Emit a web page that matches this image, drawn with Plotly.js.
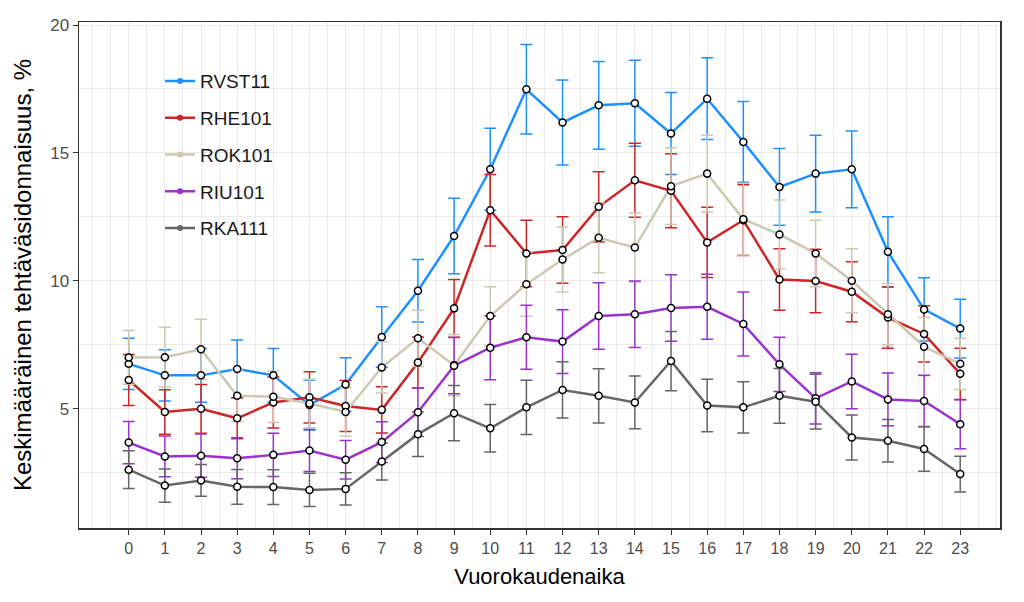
<!DOCTYPE html>
<html>
<head>
<meta charset="utf-8">
<script src="https://cdn.plot.ly/plotly-3.0.1.min.js"></script>
<style>
  html, body { margin: 0; padding: 0; background: #fff; }
  #chart { width: 1024px; height: 602px; }
</style>
</head>
<body>
<div id="chart"></div>
<script>
const hours = [0,1,2,3,4,5,6,7,8,9,10,11,12,13,14,15,16,17,18,19,20,21,22,23];
const hourLabels = ["0","1","2","3","4","5","6","7","8","9","10","11","12","13","14","15","16","17","18","19","20","21","22","23"];

const seriesNames = ["RVST11", "RHE101", "ROK101", "RIU101", "RKA111"];

const rvst11 = [6.75, 6.30, 6.30, 6.55, 6.30, 5.14, 5.94, 7.80, 9.61, 11.75, 14.36, 17.49, 16.19, 16.86, 16.94, 15.76, 17.12, 15.43, 13.67, 14.19, 14.36, 11.13, 8.88, 8.13];
const rvst11Err = [1.00, 1.00, 1.05, 1.13, 1.05, 0.98, 1.05, 1.18, 1.22, 1.48, 1.60, 1.75, 1.66, 1.72, 1.68, 1.60, 1.60, 1.58, 1.50, 1.50, 1.50, 1.37, 1.24, 1.15];

const rhe101 = [6.12, 4.87, 4.99, 4.62, 5.24, 5.44, 5.10, 4.95, 6.80, 8.92, 12.76, 11.07, 11.20, 12.89, 13.93, 13.52, 11.50, 12.37, 10.05, 9.99, 9.57, 8.56, 7.92, 6.36];
const rhe101Err = [1.00, 0.87, 0.95, 0.80, 1.00, 1.00, 1.00, 0.90, 1.00, 1.13, 1.40, 1.30, 1.30, 1.37, 1.45, 1.45, 1.37, 1.38, 1.20, 1.24, 1.17, 1.20, 1.10, 1.00];

const rok101 = [7.00, 7.01, 7.32, 5.50, 5.46, 5.20, 4.87, 6.61, 7.75, 6.70, 8.62, 9.86, 10.83, 11.68, 11.30, 13.70, 14.19, 12.41, 11.81, 11.07, 10.00, 8.69, 7.42, 6.75];
const rok101Err = [1.05, 1.17, 1.17, 1.00, 1.00, 0.95, 0.95, 1.00, 1.10, 1.20, 1.15, 1.25, 1.27, 1.37, 1.35, 1.50, 1.50, 1.40, 1.35, 1.30, 1.25, 1.20, 1.14, 1.00];

const riu101 = [3.67, 3.13, 3.16, 3.06, 3.19, 3.36, 3.00, 3.69, 4.86, 6.68, 7.38, 7.79, 7.62, 8.62, 8.69, 8.93, 8.98, 8.31, 6.73, 5.40, 6.06, 5.36, 5.30, 4.39];
const riu101Err = [0.83, 0.80, 0.85, 0.80, 0.85, 0.82, 0.75, 0.80, 0.95, 1.10, 1.25, 1.25, 1.25, 1.30, 1.30, 1.30, 1.27, 1.25, 1.06, 1.00, 1.07, 1.03, 1.00, 0.96];

const rka111 = [2.61, 1.99, 2.19, 1.94, 1.93, 1.82, 1.86, 2.93, 4.00, 4.82, 4.23, 5.05, 5.73, 5.50, 5.24, 6.86, 5.12, 5.05, 5.50, 5.27, 3.87, 3.74, 3.42, 2.44];
const rka111Err = [0.74, 0.65, 0.62, 0.68, 0.68, 0.65, 0.63, 0.72, 0.87, 1.08, 0.93, 1.06, 1.10, 1.06, 1.03, 1.16, 1.03, 1.00, 1.07, 1.07, 0.88, 0.83, 0.87, 0.70];

const seriesValues = [rvst11, rhe101, rok101, riu101, rka111];
const seriesErrors = [rvst11Err, rhe101Err, rok101Err, riu101Err, rka111Err];
const seriesColors = ["#1E90FF", "#CD2626", "#CDC8B1", "#9A32CD", "#666666"];

const FONT = "Liberation Sans, Arial, sans-serif";

const traces = [];
seriesNames.forEach((name, i) => {
  traces.push({
    type: "scatter",
    mode: "lines+markers",
    name: name,
    legendgroup: name,
    x: hours,
    y: seriesValues[i],
    line: { color: seriesColors[i], width: 2.5 },
    marker: { color: seriesColors[i], size: 6 },
    error_y: { type: "data", array: seriesErrors[i], visible: true, color: seriesColors[i], thickness: 1.5, width: 6 },
    hoverinfo: "x+y+name"
  });
});
seriesNames.forEach((name, i) => {
  traces.push({
    type: "scatter",
    mode: "markers",
    name: name,
    legendgroup: name,
    showlegend: false,
    x: hours,
    y: seriesValues[i],
    marker: { color: "#FFFFFF", size: 7, symbol: "circle", line: { color: "#000000", width: 1.5 } },
    hoverinfo: "skip"
  });
});

const layout = {
  width: 1024,
  height: 602,
  paper_bgcolor: "#FFFFFF",
  plot_bgcolor: "#FFFFFF",
  margin: { l: 79, r: 24, t: 22, b: 74 },
  font: { family: FONT, color: "#000" },
  showlegend: true,
  legend: {
    x: 0.0880, y: 0.9205, xanchor: "left", yanchor: "top",
    bgcolor: "rgba(0,0,0,0)",
    borderwidth: 0,
    tracegroupgap: 9,
    font: { family: FONT, size: 19, color: "#1A1A1A" }
  },
  shapes: [{
    type: "rect", xref: "paper", yref: "paper", layer: "between",
    x0: 0.0738, x1: 0.228, y0: 0.5375, y1: 0.9698,
    fillcolor: "#FFFFFF", line: { width: 0 }
  }],
  xaxis: {
    range: [-1.375, 24.1],
    tickmode: "array",
    tickvals: hours,
    ticktext: hourLabels,
    ticks: "outside", ticklen: 5, tickcolor: "#333333", tickwidth: 1,
    tickfont: { family: FONT, size: 16, color: "#4D4D4D" },
    showgrid: true, gridcolor: "#EBEBEB", gridwidth: 1,
    minor: { tickmode: "linear", tick0: 0, dtick: 0.5, showgrid: true, gridcolor: "#EBEBEB", gridwidth: 1, ticks: "" },
    showline: true, linecolor: "#333333", linewidth: 1.5, mirror: true,
    zeroline: false,
    title: { text: "Vuorokaudenaika", font: { family: FONT, size: 22, color: "#000" }, standoff: 13 }
  },
  yaxis: {
    range: [0.33, 20.12],
    tickmode: "array",
    tickvals: [5, 10, 15, 20],
    ticktext: ["5", "10", "15", "20"],
    ticks: "outside", ticklen: 5, tickcolor: "#333333", tickwidth: 1,
    tickfont: { family: FONT, size: 17, color: "#4D4D4D" },
    showgrid: true, gridcolor: "#EBEBEB", gridwidth: 1,
    minor: { tickmode: "linear", tick0: 0, dtick: 2.5, showgrid: true, gridcolor: "#EBEBEB", gridwidth: 1, ticks: "" },
    showline: true, linecolor: "#333333", linewidth: 1.5, mirror: true,
    zeroline: false,
    title: { text: "Keskimääräinen tehtäväsidonnaisuus, %", font: { family: FONT, size: 24, color: "#000" }, standoff: 12 }
  }
};

Plotly.newPlot("chart", traces, layout, { displayModeBar: false, staticPlot: true });
</script>
</body>
</html>
